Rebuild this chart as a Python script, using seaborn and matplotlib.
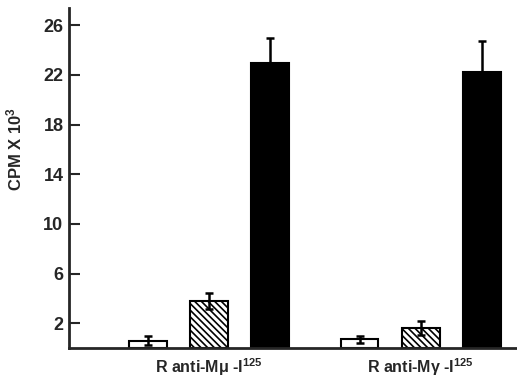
#!/usr/bin/env python

import numpy as np
import pandas as pd
import matplotlib
matplotlib.use("Agg")
import matplotlib.pyplot as plt
import seaborn as sns

# data (CPM x 10^3)
groups = ["R anti-M$\\mathbf{\\mu}$ -I$^{\\mathbf{125}}$", "R anti-M$\\mathbf{\\gamma}$ -I$^{\\mathbf{125}}$"]
conditions = ["open", "hatched", "solid"]
means_mu = [0.6, 3.8, 23.0]
means_gamma = [0.7, 1.6, 22.2]
errs_mu = [0.35, 0.65, 2.0]
errs_gamma = [0.3, 0.55, 2.5]
yticks = [2, 6, 10, 14, 18, 22, 26]


def main():
    sns.set_style("ticks")
    plt.rcParams['font.family'] = ['Liberation Sans', 'DejaVu Sans']
    plt.rcParams['font.weight'] = 'bold'
    plt.rcParams['mathtext.fontset'] = 'custom'
    plt.rcParams['mathtext.rm'] = 'Liberation Sans:bold'
    plt.rcParams['mathtext.bf'] = 'Liberation Sans:bold'
    plt.rcParams['mathtext.it'] = 'Liberation Sans:bold'
    plt.rcParams['hatch.linewidth'] = 1.2

    df = pd.DataFrame({
        "group": np.repeat(groups, len(conditions)),
        "cond": conditions * len(groups),
        "cpm": means_mu + means_gamma,
        "err": errs_mu + errs_gamma,
    })

    fig = plt.figure(figsize=(5.17, 3.77), dpi=100)
    ax = fig.add_axes([0.1335, 0.077, 0.8665, 0.902])

    sns.barplot(data=df, x="group", y="cpm", hue="cond", order=groups,
                hue_order=conditions, palette=["white", "white", "black"],
                width=0.865, gap=0.38, edgecolor="black", linewidth=1.5,
                legend=False, ax=ax)

    bar_conts = list(ax.containers)

    # hatched middle bars
    for bar in bar_conts[1]:
        bar.set_hatch("\\\\\\\\\\")

    # error bars at the bar centres
    for i, cont in enumerate(bar_conts):
        sub = df[df["cond"] == conditions[i]]
        xs = [b.get_x() + b.get_width() / 2 for b in cont]
        ax.errorbar(xs, sub["cpm"].values, yerr=sub["err"].values, fmt="none",
                    ecolor="black", elinewidth=1.8, capsize=3, capthick=1.8,
                    zorder=3)

    ax.set_xlim(-0.66, 1.455)
    ax.set_ylim(0, 27.4)
    ax.set_yticks(yticks)
    ax.tick_params(axis="y", direction="in", length=8, width=1.5,
                   labelsize=13, pad=4)
    ax.tick_params(axis="x", length=0, labelsize=11.5, pad=6)
    for lab in ax.get_yticklabels() + ax.get_xticklabels():
        lab.set_fontweight("bold")

    ax.set_xlabel("")
    ax.set_ylabel("CPM X 10$^{\\mathbf{3}}$", fontsize=12, fontweight="bold")
    ax.yaxis.set_label_coords(-0.1, 0.585)

    sns.despine(ax=ax)
    ax.spines["left"].set_linewidth(2)
    ax.spines["bottom"].set_linewidth(2)

    fig.savefig("out.png", dpi=100)


if __name__ == '__main__':
    main()
